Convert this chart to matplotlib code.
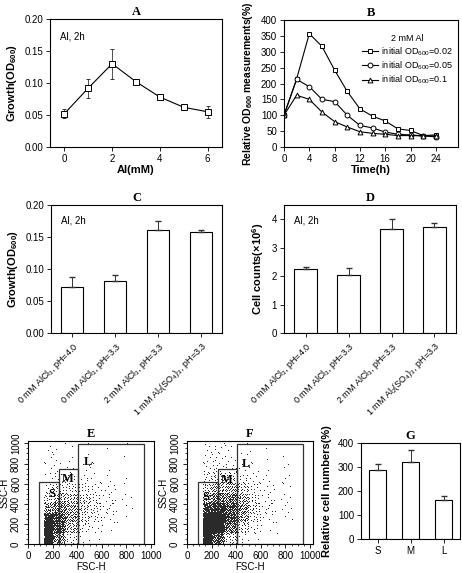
import numpy as np
import matplotlib
matplotlib.use("Agg")
from matplotlib import pyplot as plt
from matplotlib.patches import Rectangle

plt.rcParams['font.family'] = ['Liberation Sans', 'DejaVu Sans']
plt.rcParams['font.size'] = 7
plt.rcParams['axes.linewidth'] = 0.8
plt.rcParams['mathtext.default'] = 'regular'

# A: growth vs Al concentration
al_mm = [0, 1, 2, 3, 4, 5, 6]
growth_a = [0.052, 0.092, 0.130, 0.102, 0.078, 0.062, 0.055]
growth_a_err = [0.007, 0.015, 0.023, 0.003, 0.002, 0.002, 0.009]

# B: relative OD600 over time
time_h = [0, 2, 4, 6, 8, 10, 12, 14, 16, 18, 20, 22, 24]
od_002 = [100, 215, 357, 317, 242, 175, 120, 97, 82, 57, 52, 36, 38]
od_005 = [100, 213, 190, 150, 143, 100, 68, 60, 47, 40, 38, 35, 32]
od_01 = [100, 163, 150, 110, 80, 63, 48, 43, 40, 36, 36, 35, 35]

# C / D: treatments
treatments = ["0 mM AlCl$_3$, pH=4.0", "0 mM AlCl$_3$, pH=3.3",
              "2 mM AlCl$_3$, pH=3.3", "1 mM Al$_2$(SO$_4$)$_3$, pH=3.3"]
growth_c = [0.072, 0.081, 0.161, 0.158]
growth_c_err = [0.016, 0.010, 0.014, 0.003]
cells_d = [2.25, 2.03, 3.67, 3.71]
cells_d_err = [0.07, 0.25, 0.35, 0.15]

# G: relative cell numbers per gate
gates = ["S", "M", "L"]
rel_cells = [288, 322, 163]
rel_cells_err = [25, 50, 15]

# E / F: event counts per cell (rows: SSC 0-100 ... 900-1000, cols: FSC bins below)
fsc_edges = [0, 130, 200, 300, 400, 500, 600, 700, 800, 900, 1000]
counts_e = [
    [0, 220, 60, 12, 3, 1, 0, 0, 0, 0],
    [0, 260, 120, 35, 10, 4, 2, 0, 0, 0],
    [0, 130, 120, 50, 20, 10, 5, 2, 0, 0],
    [0, 40, 70, 45, 25, 14, 7, 2, 1, 0],
    [0, 15, 35, 30, 20, 12, 6, 3, 1, 0],
    [0, 6, 18, 16, 12, 7, 4, 2, 0, 0],
    [0, 3, 8, 8, 6, 3, 2, 1, 0, 0],
    [0, 2, 4, 3, 3, 2, 1, 0, 0, 0],
    [0, 2, 2, 2, 1, 1, 0, 1, 0, 0],
    [0, 3, 2, 1, 1, 0, 1, 0, 1, 0],
]
counts_f = [
    [0, 280, 100, 20, 5, 2, 0, 0, 0, 0],
    [0, 380, 220, 80, 20, 6, 2, 1, 0, 0],
    [0, 230, 230, 120, 45, 14, 5, 2, 1, 0],
    [0, 90, 140, 110, 55, 18, 7, 3, 2, 0],
    [0, 35, 80, 75, 40, 14, 6, 3, 2, 0],
    [0, 18, 40, 40, 22, 9, 4, 2, 1, 0],
    [0, 9, 20, 18, 10, 5, 3, 2, 1, 0],
    [0, 5, 10, 8, 5, 3, 1, 1, 1, 0],
    [0, 4, 6, 4, 3, 1, 1, 1, 0, 0],
    [0, 4, 5, 3, 1, 1, 1, 0, 0, 0],
]
# saturated events piled at the top edge, per FSC bin
top_e = [0, 8, 12, 8, 2, 0, 0, 0, 0, 0]
top_f = [0, 8, 12, 10, 3, 0, 0, 0, 0, 0]
# gates: (x0, x1, height)
gate_boxes = [(90, 250, 620), (250, 410, 750), (410, 940, 990)]
gate_text_e = [(190, 500), (326, 645), (489, 818)]
gate_text_f = [(150, 470), (320, 640), (480, 800)]

W, H = 462, 573
fig = plt.figure(figsize=(W / 100, H / 100), dpi=100)


def px_axes(l, t, r, b):
    return fig.add_axes([l / W, 1 - b / H, (r - l) / W, (b - t) / H])


def title(ax, s):
    ax.set_title(s, family='Liberation Serif', fontweight='bold', fontsize=9, pad=3)


def ylab(ax, s, size=8):
    ax.set_ylabel(s, fontweight='bold', fontsize=size)


def style(ax):
    ax.tick_params(direction='out', length=3, width=0.6, top=False, right=False, pad=2)


# A
ax = px_axes(50, 19, 222, 147)
ax.errorbar(al_mm, growth_a, yerr=growth_a_err, color='k', lw=0.8, marker='s', ms=4,
            mfc='white', mec='k', mew=0.7, capsize=1.5, elinewidth=0.6, ecolor='#333333')
ax.set_xlim(-0.6, 6.6)
ax.set_ylim(0, 0.2)
ax.set_yticks([0, 0.05, 0.10, 0.15, 0.20])
ax.set_yticklabels(["0.00", "0.05", "0.10", "0.15", "0.20"])
ax.set_xlabel("Al(mM)", fontweight='bold', fontsize=8, labelpad=1)
ylab(ax, "Growth(OD$_{600}$)")
ax.text(0.06, 0.9, "Al, 2h", transform=ax.transAxes, va='top')
title(ax, "A")
style(ax)

# B
ax = px_axes(284, 20, 458, 147)
kw = dict(color='k', lw=0.8, ms=3.5, mfc='white', mec='k', mew=0.7)
ax.plot(time_h, od_002, marker='s', label="initial OD$_{600}$=0.02", **kw)
ax.plot(time_h, od_005, marker='o', label="initial OD$_{600}$=0.05", **kw)
ax.plot(time_h, od_01, marker='^', label="initial OD$_{600}$=0.1", **kw)
ax.set_xlim(0, 27.5)
ax.set_ylim(0, 400)
ax.set_xticks(range(0, 25, 4))
ax.set_yticks(range(0, 401, 50))
ax.set_xlabel("Time(h)", fontweight='bold', fontsize=8, labelpad=1)
ylab(ax, "Relative OD$_{600}$ measurements(%)", size=7.5)
leg = ax.legend(title="2 mM Al", frameon=False, loc='upper right', fontsize=6.5,
                title_fontsize=6.5, handlelength=1.8, handletextpad=0.3,
                labelspacing=0.2, borderaxespad=0.2, bbox_to_anchor=(1.0, 0.93))
title(ax, "B")
style(ax)


def bars(ax, vals, errs, labels):
    xs = np.arange(len(vals))
    ax.bar(xs, vals, width=0.52, color='white', edgecolor='k', lw=0.8)
    ax.errorbar(xs, vals, yerr=[np.zeros(len(errs)), errs], fmt='none',
                ecolor='#333333', elinewidth=0.7, capsize=2)
    ax.set_xticks(xs)
    ax.set_xticklabels(labels, rotation=45, ha='right', rotation_mode='anchor', fontsize=6.5)
    ax.set_xlim(-0.5, len(vals) - 0.5)
    style(ax)


# C
ax = px_axes(51, 205, 222, 333)
bars(ax, growth_c, growth_c_err, treatments)
ax.set_ylim(0, 0.2)
ax.set_yticks([0, 0.05, 0.10, 0.15, 0.20])
ax.set_yticklabels(["0.00", "0.05", "0.10", "0.15", "0.20"])
ylab(ax, "Growth(OD$_{600}$)")
ax.text(0.06, 0.92, "Al, 2h", transform=ax.transAxes, va='top')
title(ax, "C")

# D
ax = px_axes(284, 205, 456, 333)
bars(ax, cells_d, cells_d_err, treatments)
ax.set_ylim(0, 4.5)
ax.set_yticks([0, 1, 2, 3, 4])
ylab(ax, "Cell counts($\\times$10$^6$)")
ax.text(0.06, 0.92, "Al, 2h", transform=ax.transAxes, va='top')
title(ax, "D")


def flow(ax, counts, top, texts, name):
    counts = np.array(counts)
    # R2 low-discrepancy steps, spreads the events of each cell evenly
    a1 = 0.7548776662
    a2 = 0.5698402910
    xs, ys = [], []
    for r in range(counts.shape[0]):
        for c in range(counts.shape[1]):
            x0, x1 = fsc_edges[c], fsc_edges[c + 1]
            k = np.arange(1, counts[r, c] + 1) + 37 * r + 11 * c
            xs.append(x0 + (x1 - x0) * ((0.5 + k * a1) % 1))
            ys.append(r * 100 + 100 * ((0.5 + k * a2) % 1))
    for c, n in enumerate(top):
        x0, x1 = fsc_edges[c], fsc_edges[c + 1]
        k = np.arange(1, n + 1)
        xs.append(x0 + (x1 - x0) * ((k * a1) % 1))
        ys.append(np.full(n, 1018))
    xs = np.concatenate(xs)
    ys = np.concatenate(ys)
    ax.plot(xs, ys, ',', color='#2a2a2a')
    for x0, x1, tp in gate_boxes:
        ax.add_patch(Rectangle((x0, 0), x1 - x0, tp, fill=False, ec='#333333', lw=0.9))
    for (tx, ty), s in zip(texts, gates):
        ax.text(tx, ty, s, family='Liberation Serif', fontweight='bold', fontsize=9,
                ha='center', va='center')
    ax.set_xlim(0, 1024)
    ax.set_ylim(0, 1024)
    ax.set_xticks(range(0, 1001, 200))
    ax.set_yticks(range(0, 1001, 200))
    ax.set_xticks(range(0, 1001, 50), minor=True)
    ax.set_yticks(range(0, 1001, 50), minor=True)
    ax.tick_params(axis='y', labelrotation=90)
    for lab in ax.get_yticklabels():
        lab.set_va('center')
    ax.tick_params(which='minor', length=1.5, width=0.5)
    ax.set_xlabel("FSC-H", labelpad=1)
    ax.set_ylabel("SSC-H", labelpad=1)
    title(ax, name)
    style(ax)


# E
ax = px_axes(28, 441, 154, 544)
flow(ax, counts_e, top_e, gate_text_e, "E")
# F
ax = px_axes(187, 441, 313, 544)
flow(ax, counts_f, top_f, gate_text_f, "F")

# G
ax = px_axes(361, 443, 460, 539)
bars(ax, rel_cells, rel_cells_err, gates)
ax.set_xticklabels(gates, rotation=0, ha='center', fontsize=7)
ax.set_ylim(0, 400)
ax.set_yticks(range(0, 401, 100))
ylab(ax, "Relative cell numbers(%)")
title(ax, "G")

fig.savefig("out.png", dpi=100)
